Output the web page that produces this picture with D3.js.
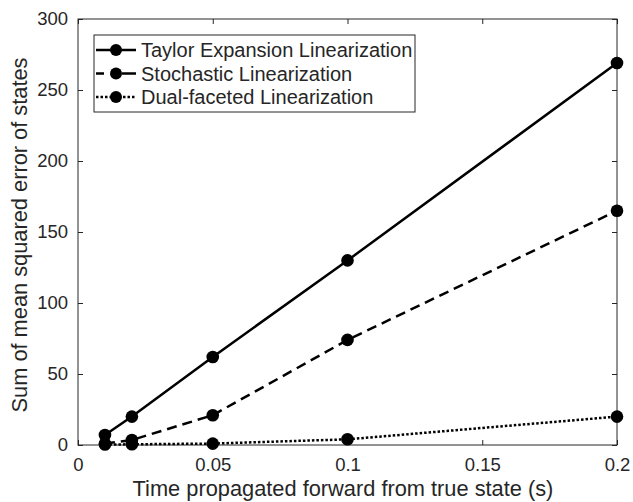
<!DOCTYPE html>
<html>
<head>
<meta charset="utf-8">
<script src="https://cdn.jsdelivr.net/npm/d3@7"></script>
<style>
  body { margin: 0; background: #fff; }
  svg text { font-family: "Liberation Sans", Arial, sans-serif; fill: #262626; }
</style>
</head>
<body>
<div id="chart"></div>
<script>
// data
var times = [0.01, 0.02, 0.05, 0.1, 0.2];
var taylor = [7, 20, 62, 130, 269];
var stochastic = [1, 3.5, 21, 74, 165];
var dualFaceted = [0.3, 0.5, 1, 4, 20];
var seriesNames = ["Taylor Expansion Linearization", "Stochastic Linearization", "Dual-faceted Linearization"];
var xTicks = [0, 0.05, 0.1, 0.15, 0.2];
var yTicks = [0, 50, 100, 150, 200, 250, 300];

var w = 633, h = 502;
var mLeft = 78, mRight = 617, mTop = 19, mBottom = 445;

var svg = d3.select("#chart").append("svg")
    .attr("width", w)
    .attr("height", h);

var x = d3.scaleLinear().domain([0, 0.2]).range([mLeft, mRight]);
var y = d3.scaleLinear().domain([0, 300]).range([mBottom, mTop]);

// axes, MATLAB style: ticks inside, box with mirrored ticks
function styleAxis(g) {
  g.select(".domain").remove();
  g.selectAll(".tick line").attr("stroke", "#262626").attr("stroke-width", 1);
  g.selectAll(".tick text").attr("font-size", "18.5px").attr("fill", "#262626");
}

svg.append("g")
  .attr("transform", "translate(0," + mBottom + ")")
  .call(d3.axisBottom(x).tickValues(xTicks).tickFormat(d3.format("~g")).tickSizeInner(-5).tickPadding(13))
  .call(styleAxis);

svg.append("g")
  .attr("transform", "translate(0," + mTop + ")")
  .call(d3.axisTop(x).tickValues(xTicks).tickFormat("").tickSizeInner(-5))
  .call(styleAxis);

svg.append("g")
  .attr("transform", "translate(" + mLeft + ",0)")
  .call(d3.axisLeft(y).tickValues(yTicks).tickSizeInner(-5).tickPadding(10))
  .call(styleAxis);

svg.append("g")
  .attr("transform", "translate(" + mRight + ",0)")
  .call(d3.axisRight(y).tickValues(yTicks).tickFormat("").tickSizeInner(-5))
  .call(styleAxis);

svg.append("rect")
  .attr("x", mLeft).attr("y", mTop)
  .attr("width", mRight - mLeft).attr("height", mBottom - mTop)
  .attr("fill", "none").attr("stroke", "#262626").attr("stroke-width", 1);

// series
var series = [
  { name: seriesNames[0], values: taylor, dash: null },
  { name: seriesNames[1], values: stochastic, dash: "10,6" },
  { name: seriesNames[2], values: dualFaceted, dash: "2.5,2" }
];

var line = d3.line()
  .x(function(d) { return x(d[0]); })
  .y(function(d) { return y(d[1]); });

series.forEach(function(s) {
  var pts = times.map(function(t, i) { return [t, s.values[i]]; });
  svg.append("path")
    .datum(pts)
    .attr("d", line)
    .attr("fill", "none")
    .attr("stroke", "#000")
    .attr("stroke-width", 2.5)
    .attr("stroke-dasharray", s.dash);
  svg.selectAll(null)
    .data(pts)
    .enter()
    .append("circle")
    .attr("cx", function(d) { return x(d[0]); })
    .attr("cy", function(d) { return y(d[1]); })
    .attr("r", 6.3)
    .attr("fill", "#000");
});

// legend
var lg = svg.append("g");
lg.append("rect")
  .attr("x", 94).attr("y", 35)
  .attr("width", 321).attr("height", 77)
  .attr("fill", "#fff").attr("stroke", "#262626").attr("stroke-width", 1);

series.forEach(function(s, i) {
  var cy = 50 + i * 23.5;
  lg.append("line")
    .attr("x1", 96).attr("x2", 136)
    .attr("y1", cy).attr("y2", cy)
    .attr("stroke", "#000").attr("stroke-width", 2.5)
    .attr("stroke-dasharray", i == 1 ? "8,18,14" : s.dash);
  lg.append("circle").attr("cx", 116).attr("cy", cy).attr("r", 6).attr("fill", "#000");
  lg.append("text")
    .attr("x", 141).attr("y", cy + 7)
    .attr("font-size", "20px")
    .text(s.name);
});

// axis labels
svg.append("text")
  .attr("x", 343).attr("y", 496)
  .attr("text-anchor", "middle")
  .attr("font-size", "21.8px")
  .text("Time propagated forward from true state (s)");

svg.append("text")
  .attr("transform", "translate(27,235) rotate(-90)")
  .attr("text-anchor", "middle")
  .attr("font-size", "21.8px")
  .text("Sum of mean squared error of states");
</script>
</body>
</html>
